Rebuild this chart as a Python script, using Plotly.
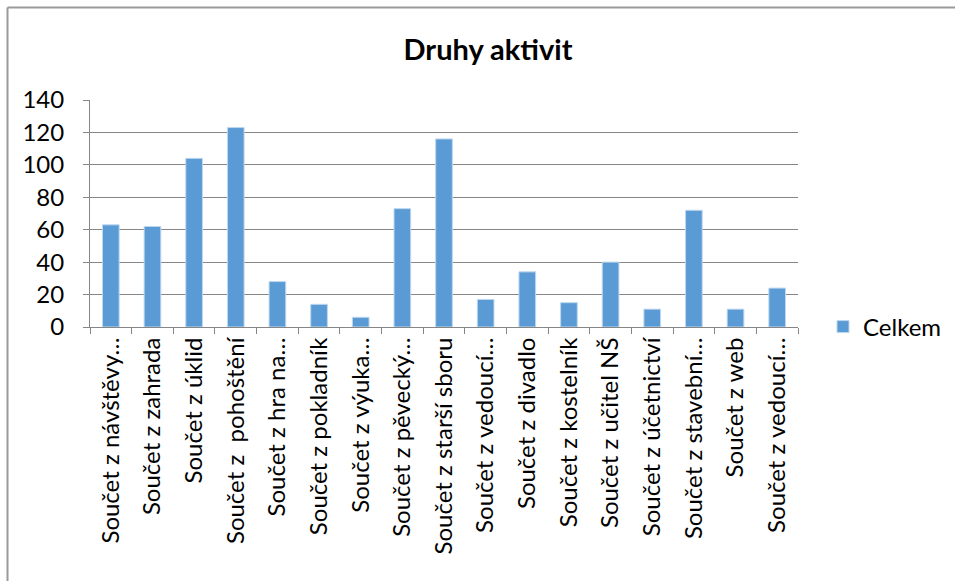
import plotly.graph_objects as go

categories = [
    "Součet z návštěvy…", "Součet z zahrada", "Součet z úklid", "Součet z  pohoštění",
    "Součet z hra na…", "Součet z pokladník", "Součet z výuka…", "Součet z pěvecký…",
    "Součet z starší sboru", "Součet z vedoucí…", "Součet z divadlo", "Součet z kostelník",
    "Součet z učitel NŠ", "Součet z účetnictví", "Součet z stavební…", "Součet z web",
    "Součet z vedoucí…",
]
values = [63, 62, 104, 123, 28, 14, 6, 73, 116, 17, 34, 15, 40, 11, 72, 11, 24]
series_name = "Celkem"
title_text = "Druhy aktivit"
y_ticks = [0, 20, 40, 60, 80, 100, 120, 140]

ids = [f"c{i}" for i in range(len(categories))]

FONT = "Lato"
PW, PH, L, T = 708, 227, 90, 100
fig = go.Figure()
fig.add_trace(go.Bar(
    x=ids, y=values, name=series_name,
    marker=dict(color="#5B9BD5", line=dict(color="#BDD7EE", width=1)),
))

def px_x(p):
    return (p - L) / PW

def px_y(p):
    return (T + PH - p) / PH

fig.update_layout(
    width=955, height=581,
    margin=dict(l=L, r=955 - L - PW, t=T, b=581 - T - PH, autoexpand=False),
    paper_bgcolor="white", plot_bgcolor="white",
    font=dict(family=FONT, size=24, color="black"),
    title=dict(text=f"<b>{title_text}</b>", x=488 / 955, xanchor="center",
               y=1 - 50 / 581, yanchor="middle",
               font=dict(family=FONT, size=29, color="black")),
    bargap=0.6,
    showlegend=True,
    legend=dict(x=px_x(823), xanchor="left", y=0.0, yanchor="middle",
                font=dict(family=FONT, size=24, color="black"),
                bgcolor="rgba(0,0,0,0)", itemwidth=30),
    xaxis=dict(
        type="category", tickmode="array", tickvals=ids, ticktext=categories,
        tickangle=-90, showline=True, linecolor="#868686", linewidth=1,
        ticks="outside", tickson="boundaries", ticklen=6, tickcolor="#868686",
        showgrid=False, tickfont=dict(family=FONT, size=24, color="black"),
    ),
    yaxis=dict(
        range=[0, 140], tickmode="array", tickvals=y_ticks,
        showline=True, linecolor="#868686", linewidth=1,
        ticks="outside", ticklen=6, tickcolor="#868686",
        showgrid=True, gridcolor="#868686", gridwidth=1,
        zeroline=False, ticklabelstandoff=14,
        tickfont=dict(family=FONT, size=24, color="black"),
    ),
    shapes=[
        dict(type="line", xref="paper", yref="paper",
             x0=px_x(7.5), x1=px_x(960), y0=px_y(7.5), y1=px_y(7.5),
             line=dict(color="#9A9A9A", width=2), layer="below"),
        dict(type="line", xref="paper", yref="paper",
             x0=px_x(7.5), x1=px_x(7.5), y0=px_y(7.5), y1=px_y(590),
             line=dict(color="#9A9A9A", width=2), layer="below"),
    ],
)

fig.write_html("out.html", config={"displayModeBar": False},
               post_script="document.body.style.margin='0';")
